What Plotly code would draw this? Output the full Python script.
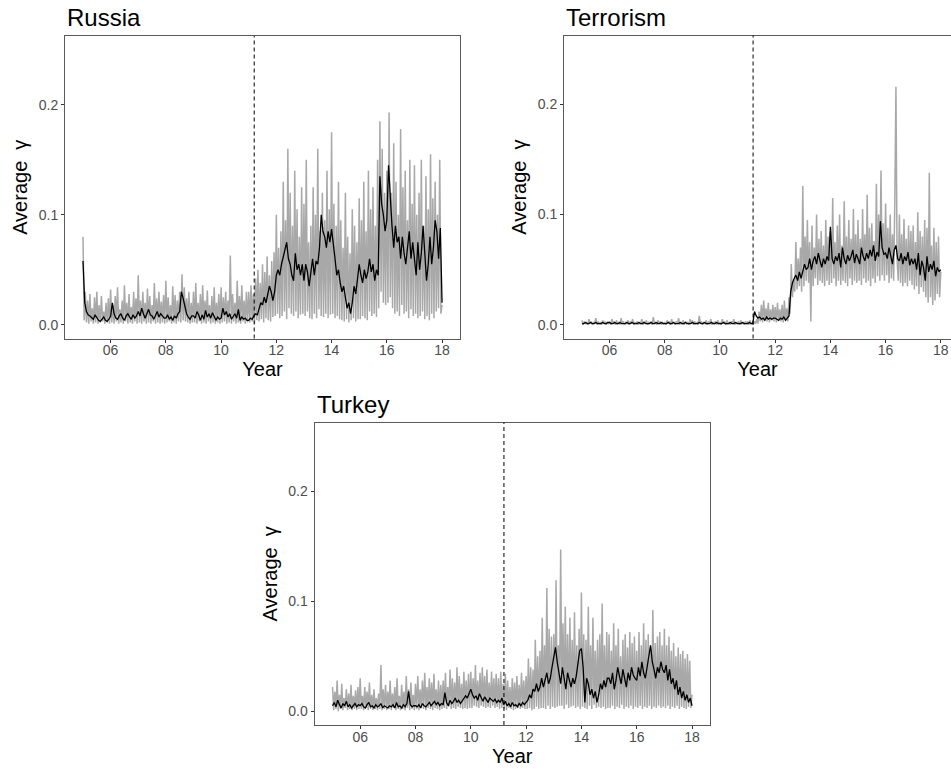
import numpy as np
import pandas as pd
import plotly.graph_objects as go

# ---------------- data (values in thousandths of gamma) ----------------
russia_gray = np.array([
    80, 4, 30, 2, 22, 1, 28, 3, 15, 1, 25, 2, 30, 1, 18, 2, 26, 3, 12, 1, 20, 2, 24, 1,
    32, 2, 18, 1, 26, 3, 34, 1, 14, 2, 22, 1, 36, 3, 20, 1, 28, 2, 16, 1, 30, 3, 24, 1,
    45, 2, 22, 1, 30, 3, 20, 1, 33, 2, 26, 1, 18, 3, 38, 1, 24, 2, 30, 1, 21, 2, 27, 1,
    40, 2, 25, 3, 18, 1, 35, 2, 27, 1, 22, 3, 30, 2, 46, 4, 34, 3, 24, 2, 30, 1, 20, 2,
    30, 2, 38, 1, 20, 3, 28, 1, 36, 2, 22, 1, 31, 3, 18, 1, 26, 2, 34, 1, 20, 2, 28, 1,
    34, 2, 25, 3, 30, 1, 22, 2, 63, 1, 28, 3, 20, 1, 40, 2, 26, 1, 36, 3, 22, 1, 30, 2,
    30, 2, 36, 3, 28, 1, 42, 4, 50, 3, 38, 5, 55, 2, 48, 6, 62, 4, 45, 3, 58, 7, 66, 8,
    100, 10, 70, 6, 85, 8, 130, 12, 95, 5, 160, 15, 120, 10, 90, 8, 140, 12, 105, 6, 80, 9, 125, 10,
    110, 8, 150, 12, 75, 6, 90, 5, 125, 10, 100, 6, 160, 14, 85, 8, 120, 7, 95, 10, 140, 6, 105, 9,
    175, 10, 110, 6, 90, 8, 130, 5, 95, 4, 70, 3, 120, 5, 80, 2, 65, 4, 105, 6, 90, 3, 75, 5,
    115, 5, 95, 8, 130, 6, 85, 4, 140, 12, 105, 8, 125, 10, 90, 7, 150, 15, 185, 30, 160, 20, 120, 18,
    140, 20, 193, 25, 120, 15, 165, 10, 130, 12, 100, 8, 178, 18, 125, 10, 140, 12, 95, 6, 150, 14, 110, 8,
    145, 10, 100, 6, 120, 8, 150, 12, 90, 5, 135, 8, 105, 4, 155, 10, 115, 6, 130, 12, 100, 15, 150, 10,
    18]) / 1000

russia_black = np.array([
    58, 20, 12, 9, 8, 6, 5, 9, 6, 4, 3, 5, 7, 4, 3, 5,
    8, 20, 10, 6, 5, 8, 10, 6, 4, 8, 10, 7, 5, 9, 6, 8,
    12, 8, 15, 10, 6, 10, 14, 9, 8, 5, 9, 12, 7, 10, 8, 6,
    6, 9, 5, 7, 4, 8, 6, 10, 12, 30, 24, 18, 10, 7, 5, 8,
    8, 6, 12, 9, 4, 9, 5, 13, 7, 10, 6, 11, 8, 4, 7, 5,
    6, 15, 9, 12, 7, 10, 5, 8, 10, 6, 14, 4, 7, 5, 6, 4,
    4, 6, 5, 8, 10, 9, 14, 20, 18, 25, 20, 28, 35, 30, 22, 30,
    45, 50, 45, 55, 62, 70, 75, 60, 55, 45, 40, 65, 50, 55, 45, 55,
    40, 55, 48, 35, 50, 60, 45, 58, 55, 70, 100, 85, 80, 70, 85, 75,
    87, 75, 60, 45, 50, 38, 30, 35, 25, 15, 20, 10, 20, 35, 28, 40,
    55, 45, 38, 50, 42, 48, 60, 48, 55, 40, 50, 45, 135, 110, 100, 85,
    95, 145, 110, 90, 70, 90, 75, 80, 60, 80, 65, 55, 70, 85, 60, 75,
    60, 45, 75, 50, 65, 90, 65, 40, 55, 80, 55, 70, 95, 85, 60, 88,
    20]) / 1000

terror_gray = np.array([
    4, 0, 3, 1, 2, 0, 5, 1, 3, 0, 2, 1, 6, 0, 3, 1, 2, 0, 4, 1, 3, 0, 2, 1,
    2, 0, 5, 1, 3, 0, 4, 1, 2, 0, 6, 1, 3, 0, 2, 1, 4, 0, 3, 1, 5, 0, 2, 1,
    3, 0, 2, 1, 5, 0, 3, 1, 4, 0, 2, 1, 3, 0, 7, 1, 2, 0, 4, 1, 3, 0, 2, 1,
    2, 0, 4, 1, 3, 0, 5, 1, 2, 0, 3, 1, 6, 0, 2, 1, 4, 0, 3, 1, 2, 0, 5, 1,
    4, 0, 3, 1, 2, 0, 8, 1, 3, 0, 2, 1, 4, 0, 3, 1, 5, 0, 2, 1, 3, 0, 4, 1,
    2, 0, 5, 1, 3, 0, 4, 1, 2, 0, 3, 1, 5, 0, 2, 1, 3, 0, 4, 1, 2, 0, 3, 1,
    3, 0, 4, 1, 2, 0, 3, 1, 5, 1, 12, 3, 18, 2, 22, 4, 15, 3, 20, 2, 14, 4, 18, 3,
    16, 2, 20, 4, 14, 3, 18, 2, 22, 4, 15, 3, 25, 10, 55, 25, 40, 30, 75, 32, 60, 35, 70, 30,
    126, 35, 80, 40, 95, 38, 75, 3, 90, 35, 70, 42, 100, 36, 78, 40, 85, 38, 72, 35, 95, 40, 80, 36,
    85, 38, 115, 42, 75, 35, 90, 40, 100, 36, 72, 40, 112, 38, 80, 35, 95, 42, 78, 36, 105, 40, 82, 38,
    95, 40, 78, 36, 105, 42, 82, 38, 118, 40, 88, 35, 92, 42, 76, 38, 128, 44, 100, 40, 140, 45, 92, 40,
    110, 45, 88, 38, 100, 42, 82, 40, 110, 216, 60, 40, 100, 38, 82, 35, 96, 38, 78, 35, 90, 40, 85, 36,
    90, 32, 75, 35, 102, 28, 85, 34, 80, 30, 95, 25, 88, 20, 138, 25, 72, 18, 88, 22, 75, 28, 80, 25,
    48]) / 1000

terror_black = np.array([
    1, 1, 2, 1, 1, 2, 1, 1, 2, 1, 1, 1, 2, 1, 1, 2,
    2, 1, 1, 2, 1, 1, 2, 1, 1, 1, 2, 1, 1, 2, 1, 1,
    1, 2, 1, 1, 2, 1, 1, 1, 2, 1, 1, 2, 1, 1, 2, 1,
    1, 1, 2, 1, 1, 2, 1, 1, 1, 2, 1, 1, 2, 1, 1, 1,
    2, 1, 1, 1, 2, 1, 1, 2, 1, 1, 1, 2, 1, 1, 2, 1,
    1, 1, 2, 1, 1, 1, 2, 1, 1, 2, 1, 1, 1, 2, 1, 1,
    1, 2, 1, 1, 12, 8, 6, 7, 5, 6, 4, 7, 5, 6, 5, 6,
    6, 5, 4, 6, 5, 7, 4, 6, 8, 30, 38, 42, 45, 40, 48, 42,
    48, 55, 50, 52, 60, 50, 58, 62, 55, 65, 58, 52, 60, 55, 62, 58,
    89, 60, 55, 62, 58, 65, 52, 70, 60, 55, 63, 58, 62, 68, 56, 64,
    60, 55, 70, 62, 58, 65, 60, 68, 62, 72, 58, 66, 62, 94, 70, 64,
    65, 60, 70, 62, 55, 68, 72, 60, 58, 65, 55, 62, 58, 66, 54, 60,
    55, 60, 50, 65, 45, 58, 52, 40, 62, 48, 55, 50, 58, 44, 52, 48,
    50]) / 1000

turkey_gray = np.array([
    22, 1, 18, 2, 28, 0, 15, 2, 25, 1, 12, 3, 20, 1, 16, 2, 24, 1, 14, 2, 19, 1, 22, 2,
    30, 2, 14, 1, 22, 3, 18, 1, 26, 2, 15, 1, 20, 2, 12, 1, 16, 2, 42, 1, 20, 2, 24, 1,
    18, 2, 28, 1, 16, 3, 22, 1, 30, 2, 14, 1, 24, 2, 18, 1, 32, 3, 20, 1, 26, 2, 15, 1,
    25, 2, 32, 1, 20, 3, 28, 2, 35, 1, 22, 3, 30, 2, 26, 1, 34, 3, 20, 2, 28, 1, 24, 2,
    28, 3, 35, 2, 22, 4, 38, 2, 30, 3, 26, 2, 40, 4, 32, 3, 25, 2, 36, 3, 28, 2, 34, 3,
    36, 3, 30, 5, 42, 4, 28, 3, 35, 5, 40, 4, 32, 3, 38, 4, 26, 3, 36, 5, 30, 3, 34, 4,
    30, 2, 36, 3, 25, 2, 34, 1, 28, 3, 22, 2, 30, 1, 26, 2, 32, 3, 24, 2, 35, 3, 28, 2,
    32, 2, 48, 3, 40, 1, 38, 2, 65, 4, 50, 2, 55, 3, 85, 3, 60, 2, 112, 5, 75, 2, 68, 4,
    70, 3, 119, 4, 60, 5, 147, 5, 80, 2, 95, 6, 70, 3, 85, 4, 65, 5, 90, 3, 60, 4, 75, 2,
    108, 4, 70, 3, 65, 2, 95, 5, 60, 2, 85, 6, 55, 3, 65, 4, 70, 3, 98, 4, 60, 2, 72, 3,
    70, 3, 55, 5, 80, 2, 60, 4, 75, 3, 50, 6, 65, 2, 70, 4, 58, 3, 72, 5, 62, 2, 68, 4,
    55, 3, 72, 5, 60, 2, 80, 4, 65, 3, 70, 5, 58, 2, 92, 4, 62, 3, 68, 5, 72, 3, 60, 4,
    75, 3, 60, 5, 68, 2, 55, 4, 62, 3, 50, 5, 58, 2, 52, 4, 55, 3, 48, 2, 52, 4, 46, 3,
    15]) / 1000

turkey_black = np.array([
    5, 8, 4, 10, 6, 3, 7, 5, 9, 4, 6, 3, 5, 7, 4, 6,
    5, 7, 4, 3, 6, 8, 4, 5, 3, 6, 4, 5, 7, 3, 5, 4,
    3, 5, 4, 6, 3, 8, 4, 5, 3, 6, 4, 7, 18, 6, 4, 5,
    5, 4, 6, 3, 7, 5, 4, 6, 8, 5, 7, 9, 6, 8, 5, 7,
    6, 17, 8, 5, 10, 7, 9, 12, 8, 10, 7, 9, 11, 14, 12, 16,
    20, 15, 12, 14, 10, 16, 12, 9, 13, 10, 8, 12, 10, 9, 11, 8,
    10, 8, 12, 6, 9, 5, 7, 4, 8, 5, 6, 4, 7, 5, 8, 6,
    8, 10, 15, 12, 20, 18, 25, 18, 22, 30, 22, 28, 35, 25, 30, 40,
    50, 58, 45, 35, 25, 40, 30, 20, 35, 28, 22, 30, 25, 32, 45, 55,
    57, 40, 8, 30, 25, 15, 20, 12, 18, 8, 15, 25, 20, 28, 22, 30,
    30, 25, 35, 20, 28, 40, 32, 25, 38, 30, 22, 35, 28, 40, 33, 30,
    28, 40, 32, 45, 35, 30, 42, 50, 60, 45, 38, 30, 40, 35, 45, 38,
    35, 42, 28, 38, 25, 30, 20, 28, 15, 22, 12, 18, 10, 15, 8, 12,
    5]) / 1000

panels = [
    ("Russia", russia_gray, russia_black),
    ("Terrorism", terror_gray, terror_black),
    ("Turkey", turkey_gray, turkey_black),
]
start, end = "2005-01-01", "2018-01-01"
event_year = 2011.2
y_ticks = [0.0, 0.1, 0.2]
y_range = [-0.0125, 0.2625]


def yr(f):
    y = int(np.floor(f))
    d = pd.Timestamp(f"{y}-01-01") + pd.Timedelta(days=(f - y) * 365.25)
    return d.strftime("%Y-%m-%d %H:%M")


W, H = 951, 771
# panel boxes in pixels: (left, right, top, bottom)
boxes = [(65, 460, 36, 338.5), (564, 951, 35.5, 338.5), (314.5, 710, 422.5, 725)]
x_ranges = [[yr(2004.35), yr(2018.65)], [yr(2004.35), yr(2018.37)], [yr(2004.35), yr(2018.65)]]

FONT = "Liberation Sans, Arial, sans-serif"
fig = go.Figure()
annotations = []
shapes = []
for i, (name, gray, black) in enumerate(panels):
    k = "" if i == 0 else str(i + 1)
    xg = pd.date_range(start, end, periods=len(gray))
    xb = pd.date_range(start, end, periods=len(black))
    fig.add_trace(go.Scatter(x=xg, y=gray, mode="lines", line=dict(color="#a8a8a8", width=1.5),
                             xaxis="x" + k, yaxis="y" + k, showlegend=False, hoverinfo="skip"))
    fig.add_trace(go.Scatter(x=xb, y=black, mode="lines", line=dict(color="black", width=1.3),
                             xaxis="x" + k, yaxis="y" + k, showlegend=False, hoverinfo="skip"))
    l, r, t, b = boxes[i]
    xd = [l / W, r / W]
    yd = [1 - b / H, 1 - t / H]
    fig.update_layout(**{
        "xaxis" + k: dict(domain=xd, anchor="y" + k, type="date", range=x_ranges[i],
                          tickformat="%y", dtick="M24", tick0="2006-01-01",
                          showgrid=False, zeroline=False, showline=True, mirror=True,
                          linecolor="#5a5a5a", linewidth=1, ticks="outside", ticklen=3,
                          tickcolor="#333333", ticklabelstandoff=-4,
                          tickfont=dict(size=14, color="#4d4d4d", family=FONT),
                          title=dict(text="Year", font=dict(size=20, color="black", family=FONT), standoff=0)),
        "yaxis" + k: dict(domain=yd, anchor="x" + k, range=y_range, tickvals=y_ticks,
                          tickformat=".1f", showgrid=False, zeroline=False, showline=True,
                          mirror=(i != 1), linecolor="#5a5a5a", linewidth=1, ticks="outside",
                          ticklen=3, tickcolor="#333333",
                          tickfont=dict(size=14, color="#4d4d4d", family=FONT),
                          title=dict(text="Average\u00a0\u00a0γ", font=dict(size=20, color="black", family=FONT),
                                     standoff=5)),
    })
    annotations.append(dict(text=name, x=xd[0], y=yd[1], xref="paper", yref="paper",
                            xanchor="left", yanchor="bottom", showarrow=False, yshift=3,
                            font=dict(size=24, color="black", family=FONT)))
    shapes.append(dict(type="line", xref="x" + k, yref="y" + k + " domain",
                       x0=yr(event_year), x1=yr(event_year), y0=0, y1=1,
                       line=dict(color="black", width=1, dash="4px,3px"), layer="above"))

fig.update_layout(width=W, height=H, margin=dict(l=0, r=0, t=0, b=0),
                  paper_bgcolor="white", plot_bgcolor="white",
                  annotations=annotations, shapes=shapes,
                  font=dict(family=FONT))
fig.write_html("out.html", config={"displayModeBar": False},
               post_script="document.body.style.margin='0px';")
